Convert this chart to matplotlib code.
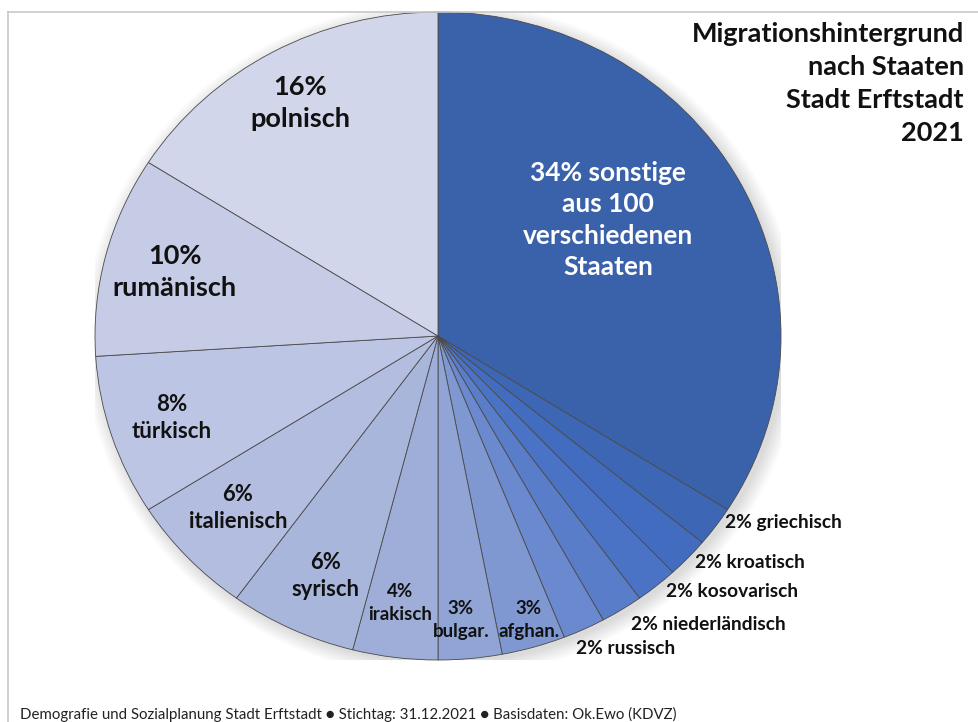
import numpy as np
import matplotlib
matplotlib.use('Agg')
import matplotlib.pyplot as plt
from matplotlib.patches import Ellipse

plt.rcParams['font.family'] = ['Lato', 'DejaVu Sans']

# Anteile nach Staatsangehoerigkeit (Prozent), im Uhrzeigersinn ab 12 Uhr
countries = ['sonstige', 'griechisch', 'kroatisch', 'kosovarisch', 'niederländisch',
             'russisch', 'afghan.', 'bulgar.', 'irakisch', 'syrisch',
             'italienisch', 'türkisch', 'rumänisch', 'polnisch']
shares = [34, 2, 2, 2, 2, 2, 3, 3, 4, 6, 6, 8, 10, 16]

colors = ['#3A62AA', '#3D67B5', '#416CC0', '#4A73C6', '#5A7DCA', '#6A89CE',
          '#7F98D2', '#91A4D6', '#9EAED9', '#A9B6DC', '#B3BDDF', '#BCC5E3',
          '#C6CCE6', '#D1D6EA']

fig = plt.figure(figsize=(9.79, 7.22), dpi=100)
W, H = 979, 722

# frame lines top / left
fig.add_artist(plt.Line2D([8 / W, 1], [1 - 12 / H, 1 - 12 / H], color='#C8C8C8', lw=1.2))
fig.add_artist(plt.Line2D([8 / W, 8 / W], [0, 1 - 12 / H], color='#C8C8C8', lw=1.2))

# pie axes: slightly wider than tall
ax = fig.add_axes([95 / W, (H - 660) / H, 686 / W, 648 / H])

# soft shadow behind the pie
for k in range(12):
    ax.add_patch(Ellipse((0.012, -0.012), 2 + k * 0.008, 2 + k * 0.008,
                         facecolor='black', alpha=0.012, lw=0, zorder=0))

wedges, _ = ax.pie(shares, colors=colors, startangle=90, counterclock=False,
                   radius=1, wedgeprops=dict(edgecolor='#4A4A4A', linewidth=0.6))
for w in wedges:
    w.set_zorder(2)
ax.set_aspect('auto')
ax.set_xlim(-1, 1)
ax.set_ylim(-1, 1)
ax.axis('off')

# label layout: (x, y, fontsize, color, text-template)
inside = {
    'sonstige': (0.496, 0.358, 19, 'white', '{p}% sonstige\naus 100\nverschiedenen\nStaaten'),
    'polnisch': (-0.402, 0.719, 19.5, '#111111', '{p}%\n{n}'),
    'rumänisch': (-0.767, 0.198, 19.5, '#111111', '{p}%\n{n}'),
    'türkisch': (-0.776, -0.253, 16, '#111111', '{p}%\n{n}'),
    'italienisch': (-0.583, -0.531, 15.8, '#111111', '{p}%\n{n}'),
    'syrisch': (-0.329, -0.741, 15.8, '#111111', '{p}%\n{n}'),
    'irakisch': (-0.111, -0.824, 13.5, '#111111', '{p}%\n{n}'),
    'bulgar.': (0.067, -0.877, 13.5, '#111111', '{p}%\n{n}'),
    'afghan.': (0.265, -0.877, 13.5, '#111111', '{p}%\n{n}'),
}
outside = {
    'griechisch': (0.837, -0.577),
    'kroatisch': (0.749, -0.698),
    'kosovarisch': (0.665, -0.790),
    'niederländisch': (0.563, -0.889),
    'russisch': (0.402, -0.966),
}

for name, p in zip(countries, shares):
    if name in inside:
        x, y, fs, c, tpl = inside[name]
        ax.text(x, y, tpl.format(p=p, n=name), ha='center', va='center',
                fontsize=fs, fontweight='bold', color=c, linespacing=1.38, zorder=5)
    else:
        x, y = outside[name]
        ax.text(x, y, f'{p}% {name}', ha='left', va='center', fontsize=13.8,
                fontweight='bold', color='#111111', zorder=5, clip_on=False)

fig.text(964 / W, 1 - 22 / H, 'Migrationshintergrund\nnach Staaten\nStadt Erftstadt\n2021',
         ha='right', va='top', fontsize=19.5, fontweight='bold', color='#111111',
         linespacing=1.45)

fig.text(20 / W, 1 - 714 / H,
         'Demografie und Sozialplanung Stadt Erftstadt \u25cf Stichtag: 31.12.2021 '
         '\u25cf Basisdaten: Ok.Ewo (KDVZ)',
         ha='left', va='center', fontsize=10.8, color='#222222')

fig.savefig('out.png', dpi=100)
